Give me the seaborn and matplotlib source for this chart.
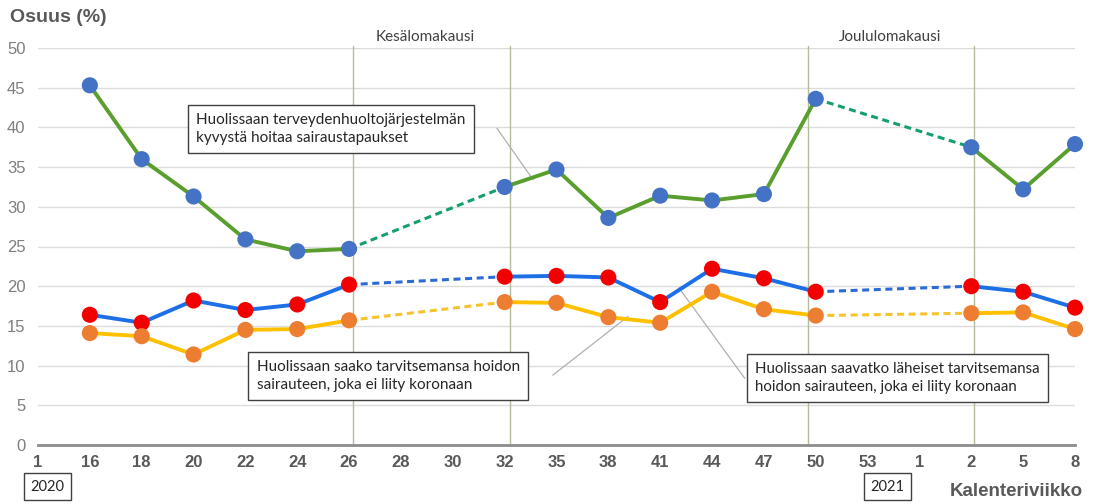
import numpy as np
import pandas as pd
import matplotlib.pyplot as plt
import seaborn as sns

# calendar weeks (2020 -> 2021), categorical axis
weeks = ['1', '16', '18', '20', '22', '24', '26', '28', '30', '32', '35',
         '38', '41', '44', '47', '50', '53', '1', '2', '5', '8']

nan = np.nan
# Huolissaan terveydenhuoltojärjestelmän kyvystä hoitaa sairaustapaukset
health_system = [nan, 45.3, 36.0, 31.3, 25.9, 24.4, 24.7, nan, nan, 32.5, 34.7,
                 28.6, 31.4, 30.8, 31.6, 43.6, nan, nan, 37.5, 32.2, 37.9]
# Huolissaan saavatko läheiset tarvitsemansa hoidon ...
relatives_care = [nan, 16.4, 15.4, 18.2, 17.0, 17.7, 20.2, nan, nan, 21.2, 21.3,
                  21.1, 18.0, 22.2, 21.0, 19.3, nan, nan, 20.0, 19.3, 17.3]
# Huolissaan saako tarvitsemansa hoidon ...
own_care = [nan, 14.1, 13.7, 11.4, 14.5, 14.6, 15.7, nan, nan, 18.0, 17.9,
            16.1, 15.4, 19.3, 17.1, 16.3, nan, nan, 16.6, 16.7, 14.6]

holiday_lines = [6.08, 9.1, 14.85, 18.05]


def split_segments(values):
    """solid parts (seg id per run of data) and dashed bridges over the gaps"""
    s = pd.Series(values, dtype=float)
    pos = np.arange(len(s))
    seg = s.isna().cumsum()
    solid = pd.DataFrame({'pos': pos, 'val': s, 'seg': seg}).dropna()
    valid = solid['pos'].to_numpy()
    rows = []
    for i, (a, b) in enumerate(zip(valid[:-1], valid[1:])):
        if b - a > 1:
            rows.append({'pos': a, 'val': s[a], 'seg': i})
            rows.append({'pos': b, 'val': s[b], 'seg': i})
    return solid, pd.DataFrame(rows)


sns.set_style('white')
plt.rcParams['font.family'] = ['Liberation Sans', 'DejaVu Sans']

fig = plt.figure(figsize=(10.96, 5.04), dpi=100)
ax = fig.add_axes([38 / 1096, 59 / 504, 1037 / 1096, 397 / 504])

series = [
    (health_system, '#5a9e2e', '#14a06a', '#4472c4'),
    (relatives_care, '#1c6fe6', '#2a6bd6', '#f20000'),
    (own_care, '#ffc000', '#f5c42c', '#ed7d31'),
]

for vals, line_col, dash_col, mark_col in series:
    solid, bridge = split_segments(vals)
    sns.lineplot(data=solid, x='pos', y='val', units='seg', estimator=None,
                 color=line_col, lw=2.8, ax=ax, legend=False, zorder=3)
    sns.lineplot(data=bridge, x='pos', y='val', units='seg', estimator=None,
                 color=dash_col, lw=2.2, linestyle=(0, (2.3, 1.5)), ax=ax,
                 legend=False, zorder=3)
    sns.scatterplot(data=solid, x='pos', y='val', color=mark_col, s=135,
                    edgecolor='none', ax=ax, legend=False, zorder=4, clip_on=False)

# holiday season markers
for xv in holiday_lines:
    ax.plot([xv, xv], [0, 50.3], color='#b2bd9c', lw=1, zorder=1, clip_on=False)
ax.text(7.46, 51.4, 'Kesälomakausi', ha='center', va='center', fontsize=11,
        family=['Lato', 'DejaVu Sans'], color='#404040')
ax.text(16.43, 51.4, 'Joululomakausi', ha='center', va='center', fontsize=11,
        family=['Lato', 'DejaVu Sans'], color='#404040')

ax.set_xlim(0, 20)
ax.set_ylim(0, 50)
ax.set_xticks(range(len(weeks)))
ax.set_xticklabels(weeks, fontsize=12, fontweight='bold', color='#595959')
ax.set_yticks(range(0, 51, 5))
ax.tick_params(axis='y', labelsize=12, labelcolor='#7f7f7f', length=0, pad=9)
ax.tick_params(axis='x', length=0, pad=7)
ax.yaxis.grid(True, color='#dcdcdc', lw=1)
ax.set_axisbelow(True)
for side in ['top', 'right', 'left']:
    ax.spines[side].set_visible(False)
ax.spines['bottom'].set_color('#8c8c8c')
ax.spines['bottom'].set_linewidth(2)
ax.set_xlabel('')
ax.set_ylabel('')

# callout boxes with leader lines
box = dict(boxstyle='square,pad=0.55', fc='white', ec='#404040', lw=1)
afont = ['Lato', 'DejaVu Sans']
ax.text(3.05, 39.8, 'Huolissaan terveydenhuoltojärjestelmän\nkyvystä hoitaa sairaustapaukset',
        ha='left', va='center', fontsize=11, family=afont, color='#262626',
        bbox=box, zorder=6, linespacing=1.3)
ax.plot([8.85, 9.55], [39.9, 33.4], color='#b0b0b0', lw=0.9, zorder=2)

ax.text(4.22, 8.7, 'Huolissaan saako tarvitsemansa hoidon\nsairauteen, joka ei liity koronaan',
        ha='left', va='center', fontsize=11, family=afont, color='#262626',
        bbox=box, zorder=6, linespacing=1.3)
ax.plot([9.93, 11.38], [8.8, 16.2], color='#b0b0b0', lw=0.9, zorder=2)

ax.text(13.83, 8.45, 'Huolissaan saavatko läheiset tarvitsemansa\nhoidon sairauteen, joka ei liity koronaan',
        ha='left', va='center', fontsize=10.8, family=afont, color='#262626',
        bbox=box, zorder=6, linespacing=1.3)
ax.plot([13.63, 12.36], [8.4, 19.8], color='#b0b0b0', lw=0.9, zorder=2)

# axis titles and year boxes
fig.text(0.009, 0.966, 'Osuus (%)', fontsize=14, fontweight='bold',
         color='#595959', ha='left', va='center')
fig.text(0.988, 0.024, 'Kalenteriviikko', fontsize=13.5, fontweight='bold',
         color='#595959', ha='right', va='center')
ybox = dict(boxstyle='square,pad=0.45', fc='white', ec='#404040', lw=1)
fig.text(0.043, 0.034, '2020', fontsize=10.5, family=afont, color='#262626',
         ha='center', va='center', bbox=ybox)
fig.text(0.810, 0.034, '2021', fontsize=10.5, family=afont, color='#262626',
         ha='center', va='center', bbox=ybox)

fig.savefig('out.png', dpi=100)
